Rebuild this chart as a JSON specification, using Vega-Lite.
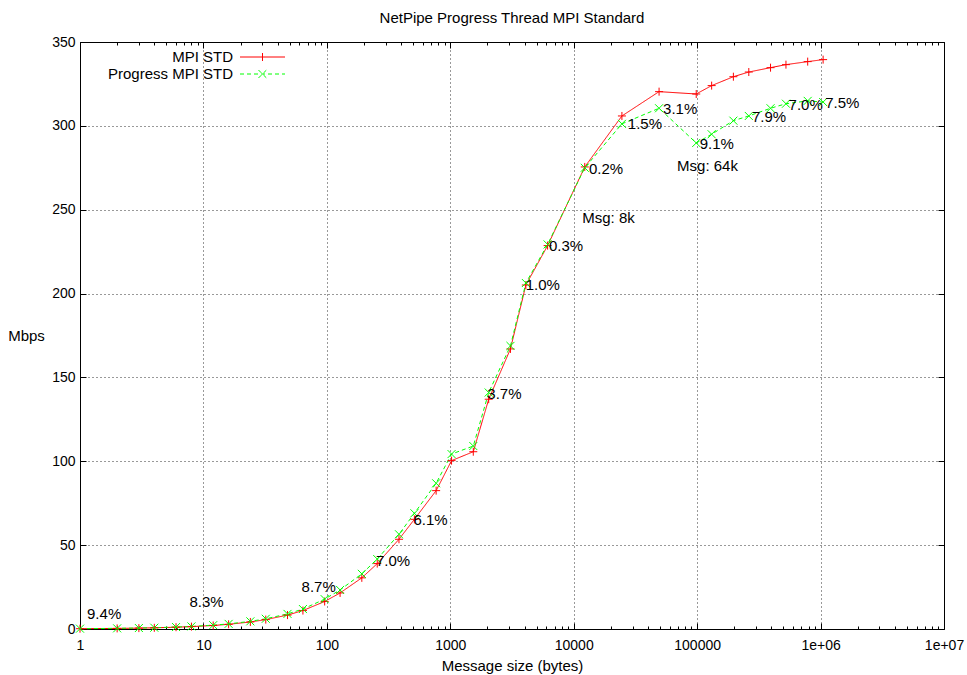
{
  "$schema": "https://vega.github.io/schema/vega-lite/v6.json",
  "width": 864,
  "height": 587,
  "autosize": "none",
  "padding": {"left": 80, "top": 42, "right": 23, "bottom": 46},
  "background": "white",
  "title": {
    "text": "NetPipe Progress Thread MPI Standard",
    "anchor": "middle",
    "frame": "group",
    "offset": 9,
    "font": "Liberation Sans",
    "fontSize": 15,
    "fontWeight": "normal",
    "color": "black"
  },
  "config": {
    "view": {"stroke": "black", "strokeWidth": 1},
    "font": "Liberation Sans",
    "axis": {
      "labelFont": "Liberation Sans",
      "labelFontSize": 14,
      "labelColor": "black",
      "titleFont": "Liberation Sans",
      "titleFontSize": 15,
      "titleFontWeight": "normal",
      "titleColor": "black",
      "tickColor": "black",
      "tickWidth": 1,
      "domain": false,
      "grid": false,
      "labelFlush": false,
      "labelOverlap": false
    },
    "legend": {"symbolOpacity": 1}
  },
  "datasets": {
    "netpipe": [
      {"size": 1, "series": "MPI STD", "mbps": 0.18},
      {"size": 2, "series": "MPI STD", "mbps": 0.36},
      {"size": 3, "series": "MPI STD", "mbps": 0.53},
      {"size": 4, "series": "MPI STD", "mbps": 0.71},
      {"size": 6, "series": "MPI STD", "mbps": 1.07},
      {"size": 8, "series": "MPI STD", "mbps": 1.42},
      {"size": 12, "series": "MPI STD", "mbps": 2.1},
      {"size": 16, "series": "MPI STD", "mbps": 2.8},
      {"size": 24, "series": "MPI STD", "mbps": 4.2},
      {"size": 32, "series": "MPI STD", "mbps": 5.6},
      {"size": 48, "series": "MPI STD", "mbps": 8.3},
      {"size": 64, "series": "MPI STD", "mbps": 11.0},
      {"size": 96, "series": "MPI STD", "mbps": 16.4},
      {"size": 128, "series": "MPI STD", "mbps": 21.5},
      {"size": 192, "series": "MPI STD", "mbps": 30.5},
      {"size": 256, "series": "MPI STD", "mbps": 39.0},
      {"size": 384, "series": "MPI STD", "mbps": 53.5},
      {"size": 512, "series": "MPI STD", "mbps": 65.4},
      {"size": 768, "series": "MPI STD", "mbps": 82.5},
      {"size": 1024, "series": "MPI STD", "mbps": 100.4},
      {"size": 1536, "series": "MPI STD", "mbps": 105.7},
      {"size": 2048, "series": "MPI STD", "mbps": 137.0},
      {"size": 3072, "series": "MPI STD", "mbps": 167.0},
      {"size": 4096, "series": "MPI STD", "mbps": 205.1},
      {"size": 6144, "series": "MPI STD", "mbps": 228.6},
      {"size": 12288, "series": "MPI STD", "mbps": 275.5},
      {"size": 24576, "series": "MPI STD", "mbps": 305.9},
      {"size": 49152, "series": "MPI STD", "mbps": 320.4},
      {"size": 98304, "series": "MPI STD", "mbps": 319.0},
      {"size": 131072, "series": "MPI STD", "mbps": 324.0},
      {"size": 196608, "series": "MPI STD", "mbps": 329.3},
      {"size": 262144, "series": "MPI STD", "mbps": 332.1},
      {"size": 393216, "series": "MPI STD", "mbps": 334.7},
      {"size": 524288, "series": "MPI STD", "mbps": 336.5},
      {"size": 786432, "series": "MPI STD", "mbps": 338.3},
      {"size": 1048576, "series": "MPI STD", "mbps": 339.5},
      {"size": 1, "series": "Progress MPI STD", "mbps": 0.2},
      {"size": 2, "series": "Progress MPI STD", "mbps": 0.39},
      {"size": 3, "series": "Progress MPI STD", "mbps": 0.58},
      {"size": 4, "series": "Progress MPI STD", "mbps": 0.77},
      {"size": 6, "series": "Progress MPI STD", "mbps": 1.16},
      {"size": 8, "series": "Progress MPI STD", "mbps": 1.54},
      {"size": 12, "series": "Progress MPI STD", "mbps": 2.3},
      {"size": 16, "series": "Progress MPI STD", "mbps": 3.05},
      {"size": 24, "series": "Progress MPI STD", "mbps": 4.57},
      {"size": 32, "series": "Progress MPI STD", "mbps": 6.1},
      {"size": 48, "series": "Progress MPI STD", "mbps": 9.0},
      {"size": 64, "series": "Progress MPI STD", "mbps": 11.9},
      {"size": 96, "series": "Progress MPI STD", "mbps": 17.8},
      {"size": 128, "series": "Progress MPI STD", "mbps": 23.3},
      {"size": 192, "series": "Progress MPI STD", "mbps": 32.9},
      {"size": 256, "series": "Progress MPI STD", "mbps": 41.7},
      {"size": 384, "series": "Progress MPI STD", "mbps": 56.5},
      {"size": 512, "series": "Progress MPI STD", "mbps": 69.0},
      {"size": 768, "series": "Progress MPI STD", "mbps": 86.9},
      {"size": 1024, "series": "Progress MPI STD", "mbps": 104.3},
      {"size": 1536, "series": "Progress MPI STD", "mbps": 109.1},
      {"size": 2048, "series": "Progress MPI STD", "mbps": 141.0},
      {"size": 3072, "series": "Progress MPI STD", "mbps": 168.8},
      {"size": 4096, "series": "Progress MPI STD", "mbps": 206.3},
      {"size": 6144, "series": "Progress MPI STD", "mbps": 229.3},
      {"size": 12288, "series": "Progress MPI STD", "mbps": 275.0},
      {"size": 24576, "series": "Progress MPI STD", "mbps": 301.2},
      {"size": 49152, "series": "Progress MPI STD", "mbps": 310.5},
      {"size": 98304, "series": "Progress MPI STD", "mbps": 289.8},
      {"size": 131072, "series": "Progress MPI STD", "mbps": 295.0},
      {"size": 196608, "series": "Progress MPI STD", "mbps": 303.1},
      {"size": 262144, "series": "Progress MPI STD", "mbps": 305.9},
      {"size": 393216, "series": "Progress MPI STD", "mbps": 310.5},
      {"size": 524288, "series": "Progress MPI STD", "mbps": 313.2},
      {"size": 786432, "series": "Progress MPI STD", "mbps": 314.9},
      {"size": 1048576, "series": "Progress MPI STD", "mbps": 314.2}
    ],
    "notes": [
      {"x": 1.14, "y": 8.9, "label": "9.4%"},
      {"x": 7.7, "y": 16.1, "label": "8.3%"},
      {"x": 62.4, "y": 25.3, "label": "8.7%"},
      {"x": 249.6, "y": 40.8, "label": "7.0%"},
      {"x": 502.9, "y": 65.0, "label": "6.1%"},
      {"x": 1995, "y": 140.0, "label": "3.7%"},
      {"x": 4082, "y": 205.1, "label": "1.0%"},
      {"x": 6300, "y": 228.4, "label": "0.3%"},
      {"x": 13270, "y": 274.1, "label": "0.2%"},
      {"x": 11720, "y": 245.1, "label": "Msg: 8k"},
      {"x": 27450, "y": 300.9, "label": "1.5%"},
      {"x": 52970, "y": 309.9, "label": "3.1%"},
      {"x": 104900, "y": 289.2, "label": "9.1%"},
      {"x": 68770, "y": 276.1, "label": "Msg: 64k"},
      {"x": 278000, "y": 305.5, "label": "7.9%"},
      {"x": 550800, "y": 312.5, "label": "7.0%"},
      {"x": 1091000, "y": 313.5, "label": "7.5%"}
    ]
  },
  "data": {"name": "netpipe"},
  "resolve": {"axis": {"x": "independent", "y": "independent"}},
  "layer": [
    {
      "mark": {"type": "line", "strokeWidth": 1},
      "encoding": {
        "x": {
          "field": "size",
          "type": "quantitative",
          "scale": {"type": "log", "domain": [1, 10000000]},
          "axis": {
            "orient": "bottom",
            "values": [1, 10, 100, 1000, 10000, 100000, 1000000, 10000000],
            "tickSize": -6,
            "grid": true,
            "gridDash": [1, 3],
            "gridColor": "#000000",
            "gridOpacity": 0.8,
            "labelPadding": 15,
            "labelExpr": "datum.value >= 1000000 ? '1e+0' + format(log(datum.value) / LN10, '.0f') : format(datum.value, 'd')",
            "title": "Message size (bytes)",
            "titleX": 432,
            "titleY": 36,
            "titleBaseline": "middle"
          }
        },
        "y": {
          "field": "mbps",
          "type": "quantitative",
          "scale": {"domain": [0, 350], "nice": false},
          "axis": {
            "orient": "left",
            "values": [0, 50, 100, 150, 200, 250, 300, 350],
            "tickSize": -6,
            "grid": true,
            "gridDash": [1, 3],
            "gridColor": "#000000",
            "gridOpacity": 0.8,
            "labelPadding": 11,
            "title": "Mbps",
            "titleAngle": 0,
            "titleX": -54,
            "titleY": 293.5,
            "titleAlign": "center",
            "titleBaseline": "middle"
          }
        },
        "color": {
          "field": "series",
          "type": "nominal",
          "scale": {"domain": ["MPI STD", "Progress MPI STD"], "range": ["#ff0000", "#00ff00"]},
          "legend": {
            "title": null,
            "orient": "none",
            "legendX": 11,
            "legendY": 7.5,
            "padding": 0,
            "rowPadding": 1,
            "labelAlign": "right",
            "labelBaseline": "middle",
            "labelOffset": 127,
            "labelLimit": 300,
            "labelFont": "Liberation Sans",
            "labelFontSize": 15,
            "labelColor": "black",
            "symbolSize": 36,
            "symbolStrokeWidth": 1
          }
        },
        "strokeDash": {
          "field": "series",
          "type": "nominal",
          "scale": {"domain": ["MPI STD", "Progress MPI STD"], "range": [[1, 0], [4, 3]]},
          "legend": {"title": null}
        }
      }
    },
    {
      "transform": [{"filter": "datum.series === 'MPI STD'"}],
      "mark": {"type": "point", "shape": "M-1,0H1M0,-1V1", "size": 64, "filled": false, "strokeWidth": 1, "color": "#ff0000", "opacity": 1},
      "encoding": {
        "x": {
          "field": "size",
          "type": "quantitative",
          "axis": {"orient": "top", "values": [1, 10, 100, 1000, 10000, 100000, 1000000, 10000000], "tickSize": -6, "labels": false, "title": null}
        },
        "y": {
          "field": "mbps",
          "type": "quantitative",
          "axis": {"orient": "right", "values": [0, 50, 100, 150, 200, 250, 300, 350], "tickSize": -6, "labels": false, "title": null}
        }
      }
    },
    {
      "transform": [{"filter": "datum.series === 'Progress MPI STD'"}],
      "mark": {"type": "point", "shape": "M-1,-1L1,1M-1,1L1,-1", "size": 64, "filled": false, "strokeWidth": 1, "color": "#00ff00", "opacity": 1},
      "encoding": {
        "x": {
          "field": "size",
          "type": "quantitative",
          "axis": {
            "orient": "bottom",
            "values": [2, 3, 4, 5, 6, 7, 8, 9, 20, 30, 40, 50, 60, 70, 80, 90, 200, 300, 400, 500, 600, 700, 800, 900, 2000, 3000, 4000, 5000, 6000, 7000, 8000, 9000, 20000, 30000, 40000, 50000, 60000, 70000, 80000, 90000, 200000, 300000, 400000, 500000, 600000, 700000, 800000, 900000, 2000000, 3000000, 4000000, 5000000, 6000000, 7000000, 8000000, 9000000],
            "tickSize": -3,
            "labels": false,
            "title": null
          }
        },
        "y": {"field": "mbps", "type": "quantitative", "axis": null}
      }
    },
    {
      "mark": {"type": "point", "filled": false, "opacity": 0},
      "encoding": {
        "x": {
          "field": "size",
          "type": "quantitative",
          "axis": {
            "orient": "top",
            "values": [2, 3, 4, 5, 6, 7, 8, 9, 20, 30, 40, 50, 60, 70, 80, 90, 200, 300, 400, 500, 600, 700, 800, 900, 2000, 3000, 4000, 5000, 6000, 7000, 8000, 9000, 20000, 30000, 40000, 50000, 60000, 70000, 80000, 90000, 200000, 300000, 400000, 500000, 600000, 700000, 800000, 900000, 2000000, 3000000, 4000000, 5000000, 6000000, 7000000, 8000000, 9000000],
            "tickSize": -3,
            "labels": false,
            "title": null
          }
        },
        "y": {"field": "mbps", "type": "quantitative", "axis": null},
        "color": {"field": "series", "type": "nominal", "legend": {"title": null}},
        "shape": {
          "field": "series",
          "type": "nominal",
          "scale": {
            "domain": ["MPI STD", "Progress MPI STD"],
            "range": [
              "M47.17,0H62.17M54.67,-1.33V1.33",
              "M47.17,0H62.17M53.33,-1.33L56,1.33M53.33,1.33L56,-1.33"
            ]
          },
          "legend": {"title": null}
        }
      }
    },
    {
      "data": {"name": "notes"},
      "mark": {"type": "text", "align": "left", "baseline": "middle", "font": "Liberation Sans", "fontSize": 15, "color": "black"},
      "encoding": {
        "x": {"field": "x", "type": "quantitative", "axis": null},
        "y": {"field": "y", "type": "quantitative", "axis": null},
        "text": {"field": "label"}
      }
    }
  ]
}
